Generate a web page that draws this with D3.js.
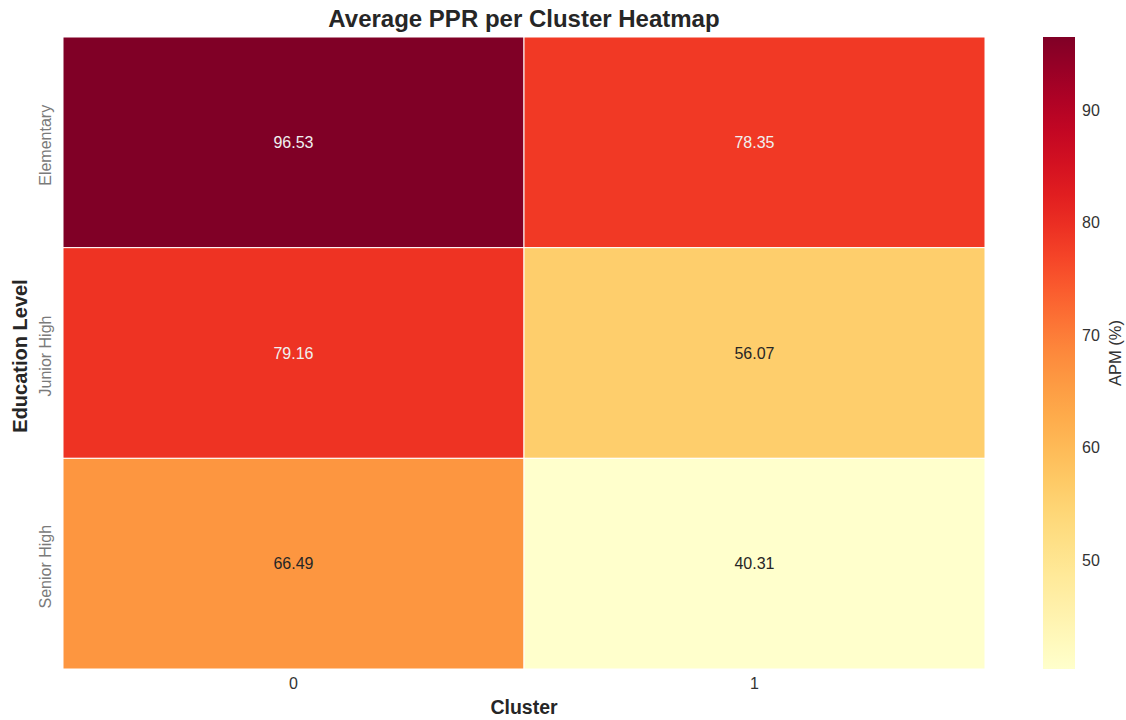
<!DOCTYPE html>
<html>
<head>
<meta charset="utf-8">
<script src="https://cdn.jsdelivr.net/npm/d3@7"></script>
<style>
  body { margin: 0; background: #fff; }
  text { font-family: "Liberation Sans", Arial, sans-serif; }
</style>
</head>
<body>
<div id="chart"></div>
<script>
// data
let levels = ["Elementary", "Junior High", "Senior High"];
let clusters = ["0", "1"];
let cluster0 = [96.53, 79.16, 66.49];
let cluster1 = [78.35, 56.07, 40.31];
let cbarTicks = [50, 60, 70, 80, 90];

let svgWidth = 1126;
let svgHeight = 720;

let margin = { top: 37, left: 63, right: 141, bottom: 51 };
let width = 985 - margin.left;
let height = 669 - margin.top;

let svg = d3.select("#chart")
    .append("svg")
    .attr("width", svgWidth)
    .attr("height", svgHeight);

let chartGroup = svg.append("g")
    .attr("transform", `translate(${margin.left}, ${margin.top})`);

// build cells
let cells = [];
levels.forEach(function(lv, i) {
    cells.push({ level: lv, cluster: "0", value: cluster0[i] });
    cells.push({ level: lv, cluster: "1", value: cluster1[i] });
});

let allVals = cluster0.concat(cluster1);
let vMin = d3.min(allVals);
let vMax = d3.max(allVals);

let xScale = d3.scaleBand().domain(clusters).range([0, width]);
let yScale = d3.scaleBand().domain(levels).range([0, height]);
let color = d3.scaleSequential(d3.interpolateYlOrRd).domain([vMin, vMax]);

// cells
chartGroup.selectAll("rect.cell")
    .data(cells)
    .enter()
    .append("rect")
    .attr("class", "cell")
    .attr("x", d => xScale(d.cluster))
    .attr("y", d => yScale(d.level))
    .attr("width", xScale.bandwidth())
    .attr("height", yScale.bandwidth())
    .attr("fill", d => color(d.value))
    .attr("stroke", "white")
    .attr("stroke-width", 1);

// annotations
chartGroup.selectAll("text.annot")
    .data(cells)
    .enter()
    .append("text")
    .attr("class", "annot")
    .attr("x", d => xScale(d.cluster) + xScale.bandwidth() / 2)
    .attr("y", d => yScale(d.level) + yScale.bandwidth() / 2)
    .attr("dy", "0.35em")
    .attr("text-anchor", "middle")
    .attr("font-size", "16px")
    .attr("fill", function(d) {
        let c = d3.rgb(color(d.value));
        let lum = 0.2126 * c.r / 255 + 0.7152 * c.g / 255 + 0.0722 * c.b / 255;
        return lum < 0.408 ? "#f0f0f0" : "#262626";
    })
    .text(d => d.value.toFixed(2));

// x axis
let xAxis = chartGroup.append("g")
    .attr("transform", `translate(0, ${height})`)
    .call(d3.axisBottom(xScale).tickSize(0).tickPadding(9));
xAxis.select(".domain").remove();
xAxis.selectAll("text")
    .attr("font-family", "Liberation Sans, Arial, sans-serif")
    .attr("font-size", "16px")
    .attr("fill", "#333");

// y axis tick labels (rotated)
chartGroup.selectAll("text.ylab")
    .data(levels)
    .enter()
    .append("text")
    .attr("class", "ylab")
    .attr("transform", d => `translate(-12, ${yScale(d) + yScale.bandwidth() / 2 + 3}) rotate(-90)`)
    .attr("text-anchor", "middle")
    .attr("font-family", "Open Sans, sans-serif")
    .attr("font-size", "16px")
    .attr("fill", "#7a7a7a")
    .text(d => d);

// axis labels
chartGroup.append("text")
    .attr("transform", `translate(${-margin.left + 27}, ${height / 2 + 3}) rotate(-90)`)
    .attr("text-anchor", "middle")
    .attr("font-size", "20px")
    .attr("font-weight", "bold")
    .attr("fill", "#262626")
    .text("Education Level");

chartGroup.append("text")
    .attr("x", width / 2)
    .attr("y", height + 45)
    .attr("text-anchor", "middle")
    .attr("font-size", "19.5px")
    .attr("font-weight", "bold")
    .attr("fill", "#262626")
    .text("Cluster");

// title
svg.append("text")
    .attr("x", margin.left + width / 2)
    .attr("y", 27)
    .attr("text-anchor", "middle")
    .attr("font-size", "24px")
    .attr("font-weight", "bold")
    .attr("fill", "#262626")
    .text("Average PPR per Cluster Heatmap");

// colorbar
let cbX = 1043, cbW = 32;
let cbScale = d3.scaleLinear().domain([vMin, vMax]).range([margin.top + height, margin.top]);

let defs = svg.append("defs");
let grad = defs.append("linearGradient")
    .attr("id", "cbGrad")
    .attr("x1", "0%").attr("y1", "100%")
    .attr("x2", "0%").attr("y2", "0%");
d3.range(0, 1.0001, 0.05).forEach(function(t) {
    grad.append("stop")
        .attr("offset", (t * 100) + "%")
        .attr("stop-color", d3.interpolateYlOrRd(t));
});

svg.append("rect")
    .attr("x", cbX)
    .attr("y", margin.top)
    .attr("width", cbW)
    .attr("height", height)
    .attr("fill", "url(#cbGrad)");

let cbAxis = svg.append("g")
    .attr("transform", `translate(${cbX + cbW}, 0)`)
    .call(d3.axisRight(cbScale).tickValues(cbarTicks).tickSize(0).tickPadding(7));
cbAxis.select(".domain").remove();
cbAxis.selectAll("text")
    .attr("font-family", "Liberation Sans, Arial, sans-serif")
    .attr("font-size", "16px")
    .attr("fill", "#333");

svg.append("text")
    .attr("transform", `translate(1121, ${margin.top + height / 2}) rotate(-90)`)
    .attr("text-anchor", "middle")
    .attr("font-size", "16.5px")
    .attr("fill", "#333")
    .text("APM (%)");
</script>
</body>
</html>
